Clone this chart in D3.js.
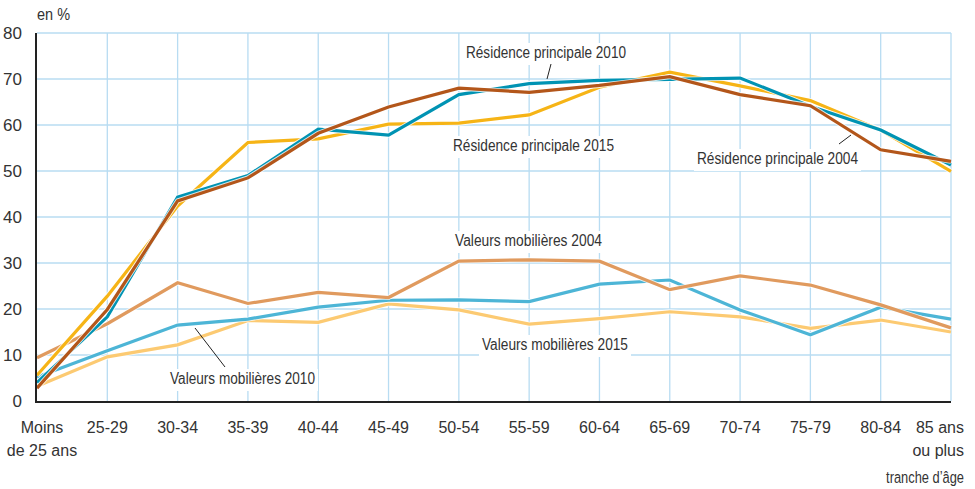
<!DOCTYPE html>
<html>
<head>
<meta charset="utf-8">
<script src="https://cdn.jsdelivr.net/npm/d3@7"></script>
<style>
  body { margin: 0; background: #fff; }
  svg { display: block; font-family: "Liberation Sans", Arial, sans-serif; }
</style>
</head>
<body>
<div id="chart"></div>
<script>
// Tranches d'âge
const categories = ["Moins de 25 ans", "25-29", "30-34", "35-39", "40-44", "45-49", "50-54",
  "55-59", "60-64", "65-69", "70-74", "75-79", "80-84", "85 ans ou plus"];
const tickLabels = [["Moins", "de 25 ans"], ["25-29"], ["30-34"], ["35-39"], ["40-44"], ["45-49"], ["50-54"],
  ["55-59"], ["60-64"], ["65-69"], ["70-74"], ["75-79"], ["80-84"], ["85 ans", "ou plus"]];
const yTicks = [0, 10, 20, 30, 40, 50, 60, 70, 80];

// Séries (en %)
const vm2015 = [3.2, 9.6, 12.2, 17.5, 17.1, 21.1, 19.8, 16.7, 17.9, 19.4, 18.3, 15.8, 17.6, 15.0];
const vm2010 = [5.2, 10.9, 16.5, 17.8, 20.4, 21.9, 22.0, 21.6, 25.4, 26.3, 19.8, 14.4, 20.4, 17.8];
const vm2004 = [9.4, 16.8, 25.7, 21.2, 23.6, 22.5, 30.4, 30.7, 30.4, 24.2, 27.2, 25.2, 20.9, 15.9];
const rp2015 = [5.6, 22.8, 42.4, 56.2, 57.0, 60.2, 60.4, 62.2, 68.2, 71.5, 68.5, 65.3, 58.9, 49.9];
const rp2010 = [4.0, 18.3, 44.3, 49.0, 59.1, 57.8, 66.6, 69.0, 69.7, 69.9, 70.2, 64.1, 58.9, 51.3];
const rp2004 = [2.8, 19.9, 43.5, 48.5, 58.2, 63.9, 68.0, 67.1, 68.6, 70.5, 66.6, 64.2, 54.6, 52.1];

const series = [
  { name: "vm2015", values: vm2015, color: "#fcca72" },
  { name: "vm2010", values: vm2010, color: "#4db5d6" },
  { name: "vm2004", values: vm2004, color: "#e09a5e" },
  { name: "rp2015", values: rp2015, color: "#f6b416" },
  { name: "rp2010", values: rp2010, color: "#0093b3" },
  { name: "rp2004", values: rp2004, color: "#b3561a" }
];

const width = 975, height = 489;
const margin = { top: 33, right: 24, bottom: 88, left: 37 };

const svg = d3.select("#chart").append("svg")
  .attr("width", width)
  .attr("height", height);

const x = d3.scalePoint()
  .domain(categories)
  .range([margin.left, width - margin.right]);

const y = d3.scaleLinear()
  .domain([0, 80])
  .range([height - margin.bottom, margin.top]);

// Grille
const grid = svg.append("g").attr("stroke", "#b8dcf2").attr("stroke-width", 1.3);
grid.selectAll("line.h")
  .data(yTicks.filter(d => d > 0))
  .enter().append("line")
  .attr("x1", margin.left).attr("x2", width - margin.right)
  .attr("y1", d => y(d)).attr("y2", d => y(d));
grid.selectAll("line.v")
  .data(categories.slice(1))
  .enter().append("line")
  .attr("x1", d => x(d)).attr("x2", d => x(d))
  .attr("y1", y(80)).attr("y2", y(0));

// Étiquettes des courbes (fond blanc)
const labels = [
  { text: "Résidence principale 2010", x: 466, y: 58, w: 160 },
  { text: "Résidence principale 2015", x: 453, y: 151, w: 161 },
  { text: "Résidence principale 2004", x: 697, y: 164, w: 161 },
  { text: "Valeurs mobilières 2004", x: 455, y: 246, w: 147 },
  { text: "Valeurs mobilières 2015", x: 482, y: 350, w: 146 },
  { text: "Valeurs mobilières 2010", x: 170, y: 384, w: 145 }
];
const leaders = [
  { x1: 551, y1: 64, x2: 547, y2: 79 },
  { x1: 839, y1: 144, x2: 851, y2: 135 },
  { x1: 195, y1: 328, x2: 225, y2: 367 }
];

const lbl = svg.append("g").selectAll("g")
  .data(labels)
  .enter().append("g");
lbl.append("rect")
  .attr("fill", "#fff")
  .attr("x", d => d.x - 3)
  .attr("y", d => d.y - 15)
  .attr("width", d => d.w + 6)
  .attr("height", 22);
lbl.append("text")
  .attr("x", d => d.x)
  .attr("y", d => d.y)
  .attr("font-size", "16px")
  .attr("fill", "#333")
  .attr("textLength", d => d.w)
  .attr("lengthAdjust", "spacingAndGlyphs")
  .text(d => d.text);

// Courbes
const line = d3.line()
  .x((d, i) => x(categories[i]))
  .y(d => y(d));

const lines = svg.append("g").attr("fill", "none").attr("stroke-linejoin", "miter");
series.forEach(s => {
  lines.append("path")
    .attr("d", line(s.values))
    .attr("stroke", "#fff")
    .attr("stroke-opacity", 0.8)
    .attr("stroke-width", 5);
  lines.append("path")
    .attr("d", line(s.values))
    .attr("stroke", s.color)
    .attr("stroke-width", 3.2);
});

svg.append("g").attr("stroke", "#222").attr("stroke-width", 1)
  .selectAll("line")
  .data(leaders)
  .enter().append("line")
  .attr("x1", d => d.x1).attr("y1", d => d.y1)
  .attr("x2", d => d.x2).attr("y2", d => d.y2);

// Axes
svg.append("line")
  .attr("x1", margin.left - 1).attr("x2", margin.left - 1)
  .attr("y1", y(80)).attr("y2", y(0) + 1)
  .attr("stroke", "#222").attr("stroke-width", 2);
svg.append("line")
  .attr("x1", margin.left - 2).attr("x2", width - margin.right)
  .attr("y1", y(0) + 1).attr("y2", y(0) + 1)
  .attr("stroke", "#222").attr("stroke-width", 2);

const yAxis = svg.append("g")
  .attr("transform", `translate(${margin.left - 1},0)`)
  .call(d3.axisLeft(y).tickValues(yTicks).tickSize(0).tickPadding(14));
yAxis.select(".domain").remove();
yAxis.selectAll("text")
  .attr("font-family", "Liberation Sans, Arial, sans-serif")
  .attr("font-size", "17px")
  .attr("fill", "#333");

// Étiquettes de l'axe des x
const xl = svg.append("g")
  .attr("font-size", "16px")
  .attr("fill", "#333")
  .selectAll("text")
  .data(categories)
  .enter().append("text")
  .attr("text-anchor", (d, i) => i === categories.length - 1 ? "end" : "middle")
  .attr("transform", (d, i) => {
    let dx = 0;
    if (i === 0) dx = 5;
    if (i === categories.length - 1) dx = 13;
    return `translate(${x(d) + dx},${height - margin.bottom + 32})`;
  });
xl.selectAll("tspan")
  .data((d, i) => tickLabels[i])
  .enter().append("tspan")
  .attr("x", 0)
  .attr("dy", (d, j) => j === 0 ? 0 : 23)
  .text(d => d);

svg.append("text")
  .attr("x", 37).attr("y", 20)
  .attr("font-size", "16px")
  .attr("fill", "#333")
  .attr("textLength", 33)
  .attr("lengthAdjust", "spacingAndGlyphs")
  .text("en %");

svg.append("text")
  .attr("transform", "translate(964,483) scale(0.78,1)")
  .attr("text-anchor", "end")
  .attr("font-size", "16.5px")
  .attr("fill", "#333")
  .text("tranche d’âge");
</script>
</body>
</html>
